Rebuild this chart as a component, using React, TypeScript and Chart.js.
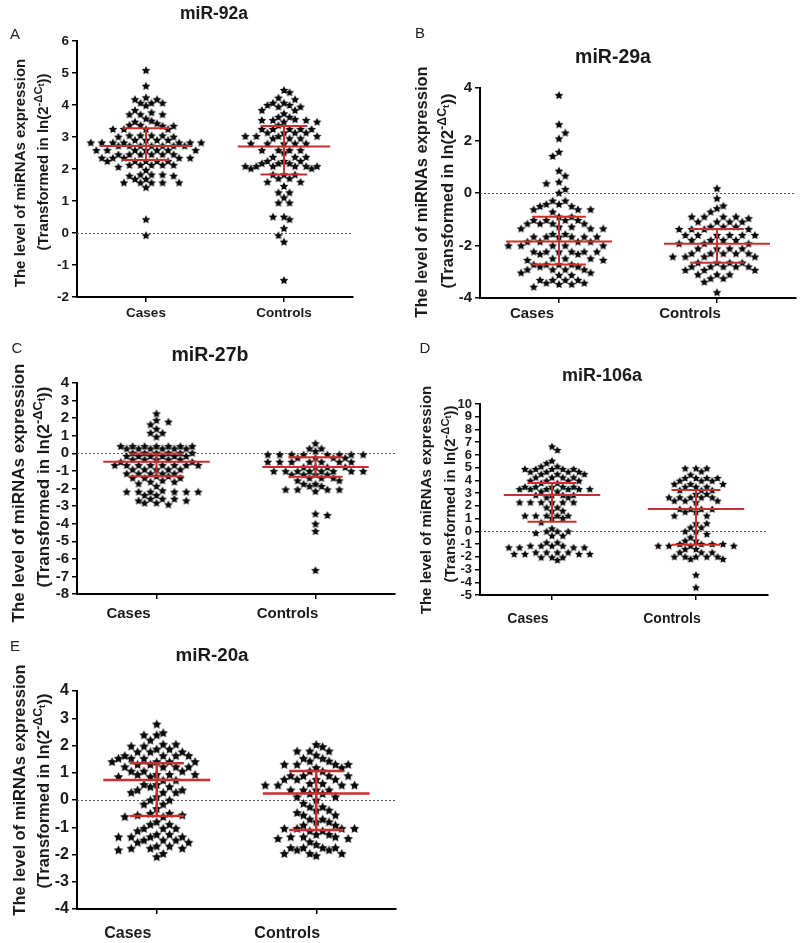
import React, { useEffect, useRef } from 'react';
import { Chart, registerables } from 'chart.js';

Chart.register(...registerables);

const FONT = "'Liberation Sans', Arial, Helvetica, sans-serif";
const RED = '#c8302e';
const GROUPS = ['Cases', 'Controls'];

// ---------- Panel A: miR-92a ----------
const A_CASES = [5.09, 4.6, 4.24, 4.18, 4.18, 4.07, 4.07, 4.07, 3.99, 3.84, 3.77, 3.71, 3.71, 3.71, 3.58, 3.51, 3.48, 3.43, 3.38, 3.38, 3.35, 3.35, 3.25, 3.25, 3.25, 3.25, 3.05, 3.05, 3.05, 3.05, 3.01, 3.01, 2.91, 2.91, 2.91, 2.91, 2.83, 2.83, 2.83, 2.83, 2.83, 2.83, 2.83, 2.73, 2.73, 2.73, 2.73, 2.73, 2.73, 2.73, 2.59, 2.59, 2.59, 2.59, 2.59, 2.59, 2.59, 2.46, 2.46, 2.46, 2.46, 2.46, 2.46, 2.35, 2.35, 2.35, 2.35, 2.35, 2.25, 2.25, 2.25, 2.25, 2.25, 2.13, 2.13, 2.13, 2.13, 2.13, 2.07, 1.97, 1.83, 1.83, 1.83, 1.79, 1.79, 1.69, 1.69, 1.58, 1.58, 1.58, 1.58, 1.58, 1.43, 0.43, -0.07];
const A_CONTROLS = [4.47, 4.4, 4.23, 4.18, 4.07, 4.07, 4.0, 4.0, 3.95, 3.95, 3.84, 3.84, 3.74, 3.63, 3.63, 3.56, 3.53, 3.53, 3.53, 3.48, 3.48, 3.37, 3.25, 3.25, 3.25, 3.25, 3.25, 3.14, 3.14, 3.14, 3.14, 3.03, 3.03, 3.03, 3.03, 2.96, 2.96, 2.96, 2.8, 2.8, 2.8, 2.8, 2.8, 2.59, 2.59, 2.59, 2.59, 2.52, 2.38, 2.38, 2.38, 2.25, 2.25, 2.25, 2.18, 2.18, 2.18, 2.09, 2.09, 2.09, 2.09, 2.09, 2.09, 2.02, 2.02, 1.83, 1.83, 1.83, 1.71, 1.71, 1.6, 1.6, 1.47, 1.27, 1.27, 1.11, 0.95, 0.95, 0.51, 0.51, 0.43, 0.15, -0.07, -0.27, -1.47];
const A_MEDIAN = [2.72, 2.7];
const A_Q1 = [2.28, 1.83];
const A_Q3 = [3.27, 3.34];
const A_YAXIS = [-2, 6, 1];

// ---------- Panel B: miR-29a ----------
const B_CASES = [3.73, 2.62, 2.3, 2.08, 1.57, 1.41, 0.85, 0.66, 0.43, 0.37, 0.15, 0.01, -0.29, -0.29, -0.42, -0.42, -0.5, -0.5, -0.62, -0.62, -0.62, -0.71, -0.9, -0.9, -1.03, -1.03, -1.03, -1.03, -1.16, -1.16, -1.16, -1.16, -1.28, -1.28, -1.35, -1.35, -1.35, -1.56, -1.56, -1.66, -1.66, -1.66, -1.66, -1.66, -1.66, -1.85, -1.85, -1.85, -1.85, -2.0, -2.0, -2.0, -2.0, -2.0, -2.23, -2.23, -2.23, -2.23, -2.23, -2.23, -2.32, -2.32, -2.49, -2.49, -2.49, -2.55, -2.55, -2.72, -2.72, -2.72, -2.72, -2.8, -2.8, -2.91, -2.91, -2.91, -2.91, -3.03, -3.03, -3.12, -3.12, -3.31, -3.31, -3.31, -3.31, -3.42, -3.42, -3.47, -3.47, -3.57];
const B_CONTROLS = [0.18, -0.2, -0.48, -0.58, -0.71, -0.9, -0.9, -0.9, -0.9, -0.96, -1.09, -1.09, -1.09, -1.09, -1.28, -1.28, -1.28, -1.37, -1.37, -1.37, -1.37, -1.6, -1.6, -1.6, -1.6, -1.6, -1.6, -1.79, -1.79, -1.79, -1.79, -1.92, -1.92, -1.92, -2.11, -2.11, -2.11, -2.11, -2.3, -2.3, -2.3, -2.3, -2.3, -2.42, -2.42, -2.42, -2.42, -2.65, -2.65, -2.65, -2.65, -2.8, -2.8, -2.8, -2.8, -2.8, -2.93, -2.93, -2.93, -3.1, -3.1, -3.1, -3.25, -3.25, -3.38, -3.78];
const B_MEDIAN = [-1.85, -1.93];
const B_Q1 = [-2.72, -2.66];
const B_Q3 = [-0.9, -1.37];
const B_YAXIS = [-4, 4, 2];

// ---------- Panel C: miR-27b ----------
const C_CASES = [2.27, 1.89, 1.8, 1.65, 1.4, 1.17, 1.17, 0.95, 0.41, 0.41, 0.41, 0.41, 0.41, 0.41, 0.41, 0.28, 0.28, 0.28, 0.28, 0.28, 0.28, 0.03, 0.03, 0.03, 0.03, 0.03, 0.03, -0.15, -0.15, -0.15, -0.15, -0.15, -0.15, -0.34, -0.34, -0.34, -0.34, -0.34, -0.48, -0.48, -0.67, -0.67, -0.67, -0.67, -0.67, -0.67, -0.67, -0.67, -0.91, -0.91, -0.91, -0.91, -0.91, -1.14, -1.14, -1.14, -1.14, -1.14, -1.29, -1.29, -1.39, -1.39, -1.39, -1.54, -1.61, -1.61, -1.71, -1.86, -2.11, -2.18, -2.18, -2.18, -2.18, -2.18, -2.18, -2.37, -2.37, -2.58, -2.58, -2.58, -2.68, -2.68, -2.81, -2.81, -2.9];
const C_CONTROLS = [0.57, 0.28, 0.28, 0.13, -0.06, -0.06, -0.06, -0.06, -0.06, -0.06, -0.06, -0.06, -0.25, -0.25, -0.25, -0.25, -0.48, -0.48, -0.48, -0.48, -0.48, -0.48, -0.48, -0.78, -0.78, -0.78, -0.78, -1.01, -1.01, -1.01, -1.01, -1.01, -1.01, -1.01, -1.01, -1.2, -1.2, -1.2, -1.2, -1.39, -1.39, -1.39, -1.54, -1.54, -1.73, -1.73, -1.86, -1.86, -2.05, -2.05, -2.05, -2.05, -2.15, -3.43, -3.51, -4.0, -4.42, -6.64];
const C_MEDIAN = [-0.48, -0.78];
const C_Q1 = [-1.3, -1.33];
const C_Q3 = [-0.02, -0.22];
const C_YAXIS = [-8, 4, 1];

// ---------- Panel D: miR-106a ----------
const D_CASES = [6.67, 6.39, 5.55, 5.36, 5.1, 5.1, 4.9, 4.9, 4.9, 4.9, 4.9, 4.68, 4.68, 4.68, 4.68, 4.5, 4.5, 4.5, 4.24, 4.24, 4.24, 4.24, 3.98, 3.98, 3.98, 3.98, 3.8, 3.8, 3.5, 3.5, 3.5, 3.5, 3.5, 3.32, 3.32, 3.32, 3.32, 3.32, 3.32, 3.14, 3.14, 2.85, 2.85, 2.85, 2.85, 2.67, 2.67, 2.28, 2.28, 2.28, 2.28, 2.28, 2.28, 1.88, 1.88, 1.62, 1.62, 1.23, 1.23, 1.23, 1.23, 1.23, 1.05, 1.05, 0.71, 0.23, 0.0, 0.0, 0.0, -0.13, -0.34, -0.34, -0.87, -0.87, -1.13, -1.13, -1.13, -1.13, -1.26, -1.26, -1.26, -1.26, -1.65, -1.65, -1.65, -1.65, -1.78, -1.78, -1.78, -1.78, -2.04, -2.04, -2.04, -2.25];
const D_CONTROLS = [4.95, 4.95, 4.95, 4.71, 4.45, 4.19, 4.19, 4.19, 4.19, 3.98, 3.98, 3.98, 3.72, 3.72, 3.72, 3.5, 3.5, 3.5, 3.24, 3.24, 3.24, 2.93, 2.93, 2.67, 2.67, 2.67, 2.67, 2.67, 2.41, 2.41, 2.41, 2.28, 1.75, 1.75, 1.75, 1.75, 1.54, 1.54, 1.23, 1.23, 0.63, 0.63, 0.31, 0.31, 0.0, 0.0, -0.21, -0.47, -0.73, -0.73, -0.99, -0.99, -0.99, -0.99, -1.13, -1.13, -1.13, -1.13, -1.39, -1.39, -1.65, -1.65, -1.65, -1.99, -1.99, -1.99, -1.99, -1.99, -2.17, -2.17, -3.41, -4.4];
const D_MEDIAN = [2.85, 1.75];
const D_Q1 = [0.76, -1.05];
const D_Q3 = [3.79, 3.24];
const D_YAXIS = [-5, 10, 1];

// ---------- Panel E: miR-20a ----------
const E_CASES = [2.79, 2.47, 2.39, 2.39, 2.2, 2.05, 2.05, 1.98, 1.98, 1.87, 1.87, 1.77, 1.77, 1.77, 1.63, 1.63, 1.63, 1.63, 1.53, 1.53, 1.53, 1.41, 1.41, 1.41, 1.41, 1.31, 1.31, 1.22, 1.22, 1.22, 1.22, 1.06, 1.06, 1.06, 0.94, 0.94, 0.94, 0.94, 0.86, 0.86, 0.73, 0.73, 0.57, 0.57, 0.49, 0.49, 0.37, 0.37, 0.28, 0.28, 0.28, 0.12, 0.0, 0.0, -0.15, -0.15, -0.31, -0.49, -0.49, -0.55, -0.55, -0.61, -0.61, -0.8, -0.89, -0.89, -1.04, -1.04, -1.04, -1.13, -1.26, -1.26, -1.35, -1.35, -1.35, -1.35, -1.47, -1.47, -1.47, -1.55, -1.55, -1.69, -1.69, -1.77, -1.77, -1.77, -1.83, -1.96, -2.08];
const E_CONTROLS = [2.04, 1.96, 1.8, 1.8, 1.8, 1.65, 1.53, 1.53, 1.43, 1.43, 1.31, 1.31, 1.31, 1.31, 1.19, 1.19, 1.06, 1.06, 0.89, 0.89, 0.89, 0.89, 0.76, 0.76, 0.76, 0.76, 0.61, 0.61, 0.55, 0.55, 0.55, 0.55, 0.37, 0.37, 0.37, 0.37, 0.24, 0.24, 0.12, 0.12, 0.0, -0.12, -0.25, -0.25, -0.37, -0.37, -0.46, -0.55, -0.55, -0.7, -0.7, -0.8, -0.8, -0.92, -0.92, -1.04, -1.04, -1.04, -1.04, -1.13, -1.13, -1.26, -1.26, -1.35, -1.35, -1.35, -1.41, -1.41, -1.53, -1.63, -1.75, -1.75, -1.75, -1.75, -1.83, -1.83, -1.96, -1.96, -1.96, -2.04];
const E_MEDIAN = [0.73, 0.24];
const E_Q1 = [-0.59, -1.1];
const E_Q3 = [1.35, 1.06];
const E_YAXIS = [-4, 4, 1];

type Pt = [number, number];
type PanelCfg = {
  letter: string;
  title: string;
  cases: number[];
  controls: number[];
  median: number[];
  q1: number[];
  q3: number[];
  yAxis: number[];
  box: [number, number, number, number];
  area: [number, number, number, number];
  yFont: number;
  xFont: number;
  xPad: number;
  labelOffset: number;
  star: number;
  step: number;
  vCol: number;
  redW: number;
  titlePos: Pt;
  titleSize: number;
  letterPos: Pt;
  yt1: Pt;
  yt2: Pt;
  ytSize: number;
};

const PANELS: PanelCfg[] = [
  {
    letter: 'A', title: 'miR-92a', cases: A_CASES, controls: A_CONTROLS,
    median: A_MEDIAN, q1: A_Q1, q3: A_Q3, yAxis: A_YAXIS,
    box: [0, 0, 400, 325], area: [77, 41, 353, 297],
    yFont: 13.5, xFont: 13.5, xPad: 3, labelOffset: 0, star: 9, step: 0.08, vCol: 8, redW: 2,
    titlePos: [214, 14], titleSize: 17.5, letterPos: [15, 33],
    yt1: [19, 173], yt2: [43, 162], ytSize: 15,
  },
  {
    letter: 'B', title: 'miR-29a', cases: B_CASES, controls: B_CONTROLS,
    median: B_MEDIAN, q1: B_Q1, q3: B_Q3, yAxis: B_YAXIS,
    box: [400, 0, 400, 325], area: [480, 88, 797, 298],
    yFont: 15, xFont: 15, xPad: 2, labelOffset: -27, star: 9, step: 0.08, vCol: 9, redW: 2,
    titlePos: [613, 57], titleSize: 19.5, letterPos: [420, 32],
    yt1: [421, 192], yt2: [447, 191], ytSize: 16.5,
  },
  {
    letter: 'C', title: 'miR-27b', cases: C_CASES, controls: C_CONTROLS,
    median: C_MEDIAN, q1: C_Q1, q3: C_Q3, yAxis: C_YAXIS,
    box: [0, 325, 400, 315], area: [77, 383, 395, 594],
    yFont: 15, xFont: 15, xPad: 6, labelOffset: -28, star: 9, step: 0.075, vCol: 6, redW: 2,
    titlePos: [210, 355], titleSize: 19.5, letterPos: [17, 347],
    yt1: [18, 493], yt2: [43, 487], ytSize: 17,
  },
  {
    letter: 'D', title: 'miR-106a', cases: D_CASES, controls: D_CONTROLS,
    median: D_MEDIAN, q1: D_Q1, q3: D_Q3, yAxis: D_YAXIS,
    box: [400, 325, 400, 315], area: [480, 404, 768, 595],
    yFont: 13, xFont: 14, xPad: 11, labelOffset: -24, star: 8.5, step: 0.075, vCol: 7, redW: 2,
    titlePos: [602, 375], titleSize: 18, letterPos: [425, 347],
    yt1: [425, 500], yt2: [450, 494], ytSize: 15,
  },
  {
    letter: 'E', title: 'miR-20a', cases: E_CASES, controls: E_CONTROLS,
    median: E_MEDIAN, q1: E_Q1, q3: E_Q3, yAxis: E_YAXIS,
    box: [0, 640, 400, 303], area: [77, 691, 400, 909],
    yFont: 16, xFont: 16, xPad: 10, labelOffset: -29, star: 10, step: 0.08, vCol: 10, redW: 2.5,
    titlePos: [212, 655], titleSize: 18.8, letterPos: [15, 645],
    yt1: [19, 790], yt2: [43, 791], ytSize: 16.5,
  },
];

function makeStar(size: number): HTMLCanvasElement {
  const n = Math.ceil(size) + 1;
  const c = document.createElement('canvas');
  c.width = n;
  c.height = n;
  const ctx = c.getContext('2d')!;
  const R = size / 2;
  const r = R * 0.5;
  const cx = n / 2;
  const cy = n / 2 + R * 0.1;
  ctx.beginPath();
  for (let i = 0; i < 10; i++) {
    const rad = i % 2 === 0 ? R : r;
    const a = -Math.PI / 2 + (i * Math.PI) / 5;
    const px = cx + rad * Math.cos(a);
    const py = cy + rad * Math.sin(a);
    if (i === 0) ctx.moveTo(px, py);
    else ctx.lineTo(px, py);
  }
  ctx.closePath();
  ctx.fillStyle = '#0a0a0a';
  ctx.fill();
  return c;
}

// Dot-plot spreading on a half-step lattice (like GraphPad Prism's scatter dot plot):
// a point may share a column with another only when far enough apart vertically,
// and may sit half a step beside another when the rows are slightly offset.
function latticeSwarm(ys: number[], s: number, vCol: number, vRow: number): number[] {
  const order = ys.map((_, i) => i).sort((a, b) => ys[a] - ys[b]);
  const xs = new Array(ys.length).fill(0);
  const placed: number[] = [];
  let side = 1;
  for (const i of order) {
    const y = ys[i];
    const near = placed.filter((j) => Math.abs(ys[j] - y) < vCol);
    let best = 0;
    for (let k = 0; k < 80; k++) {
      const m = Math.ceil(k / 2);
      const c = k === 0 ? 0 : (k % 2 === 1 ? side : -side) * m * (s / 2);
      const clash = near.some((j) => {
        const dx = Math.abs(xs[j] - c);
        const dy = Math.abs(ys[j] - y);
        return (dx < s / 2 - 0.01 && dy < vCol) || (dx < s - 0.01 && dy < vRow);
      });
      if (!clash) {
        best = c;
        break;
      }
    }
    if (best !== 0) side = -side;
    xs[i] = best;
    placed.push(i);
  }
  return xs;
}

function Panel({ cfg }: { cfg: PanelCfg }) {
  const ref = useRef<HTMLCanvasElement | null>(null);
  useEffect(() => {
    const canvas = ref.current;
    if (!canvas) return;
    const [bx, by, bw, bh] = cfg.box;
    const [L, T, R, B] = cfg.area;
    const YW = 40;
    const XH = 44;
    const star = makeStar(cfg.star);

    const dotPlotPlugin = {
      id: 'dotplot',
      afterDatasetsUpdate(chart: any) {
        const xs = chart.scales.x;
        const unit = xs.getPixelForValue(2) - xs.getPixelForValue(1);
        chart.data.datasets.forEach((ds: any, i: number) => {
          const meta = chart.getDatasetMeta(i);
          const cx = xs.getPixelForValue(ds.group);
          const ys = meta.data.map((el: any) => el.y);
          const offs = latticeSwarm(ys, cfg.step * unit, cfg.vCol, 2);
          meta.data.forEach((el: any, k: number) => {
            el.x = cx + offs[k];
          });
        });
      },
    };

    const zeroPlugin = {
      id: 'zeroLine',
      beforeDatasetsDraw(chart: any) {
        const { ctx, chartArea, scales } = chart;
        const y0 = Math.round(scales.y.getPixelForValue(0)) + 0.5;
        ctx.save();
        ctx.strokeStyle = '#555';
        ctx.lineWidth = 1;
        ctx.setLineDash([2, 2]);
        ctx.beginPath();
        ctx.moveTo(chartArea.left, y0);
        ctx.lineTo(chartArea.right, y0);
        ctx.stroke();
        ctx.restore();
      },
    };

    const statsPlugin = {
      id: 'stats',
      afterDatasetsDraw(chart: any) {
        const { ctx, scales } = chart;
        const x = scales.x;
        const y = scales.y;
        const unit = x.getPixelForValue(2) - x.getPixelForValue(1);
        ctx.save();
        ctx.strokeStyle = RED;
        ctx.lineWidth = cfg.redW;
        ctx.lineCap = 'butt';
        const seg = (x1: number, y1: number, x2: number, y2: number) => {
          ctx.beginPath();
          ctx.moveTo(x1, y1);
          ctx.lineTo(x2, y2);
          ctx.stroke();
        };
        for (let g = 0; g < 2; g++) {
          const cx = x.getPixelForValue(g + 1);
          const ym = y.getPixelForValue(cfg.median[g]);
          const y1 = y.getPixelForValue(cfg.q1[g]);
          const y3 = y.getPixelForValue(cfg.q3[g]);
          seg(cx, y1, cx, y3);
          seg(cx - 0.335 * unit, ym, cx + 0.335 * unit, ym);
          seg(cx - 0.17 * unit, y1, cx + 0.17 * unit, y1);
          seg(cx - 0.17 * unit, y3, cx + 0.17 * unit, y3);
        }
        ctx.restore();
      },
    };

    const ptStyle = {
      pointStyle: star,
      pointRadius: 4,
      pointHoverRadius: 4,
      pointBorderWidth: 0,
    };

    const chart = new Chart(canvas, {
      type: 'scatter',
      data: {
        datasets: [
          { label: GROUPS[0], group: 1, data: cfg.cases.map((v) => ({ x: 1, y: v })), ...ptStyle } as any,
          { label: GROUPS[1], group: 2, data: cfg.controls.map((v) => ({ x: 2, y: v })), ...ptStyle } as any,
        ],
      },
      options: {
        responsive: false,
        animation: false,
        events: [],
        layout: {
          padding: {
            left: L - bx - YW,
            top: T - by,
            right: bx + bw - R,
            bottom: by + bh - B - XH,
          },
        },
        plugins: {
          legend: { display: false },
          tooltip: { enabled: false },
          title: { display: false },
        },
        scales: {
          x: {
            type: 'linear',
            min: 0.5,
            max: 2.5,
            afterBuildTicks: (s: any) => {
              s.ticks = [{ value: 1 }, { value: 2 }];
            },
            afterFit: (s: any) => {
              s.height = XH;
            },
            grid: { drawOnChartArea: false, drawTicks: true, tickLength: 5, color: '#000', lineWidth: 1.5 },
            border: { display: true, color: '#000', width: 2 },
            ticks: {
              autoSkip: false,
              maxRotation: 0,
              padding: cfg.xPad,
              labelOffset: cfg.labelOffset,
              color: '#1a1a1a',
              font: { family: FONT, size: cfg.xFont, weight: 'bold' },
              callback: (_v: any, i: number) => GROUPS[i],
            },
          },
          y: {
            type: 'linear',
            min: cfg.yAxis[0],
            max: cfg.yAxis[1],
            afterFit: (s: any) => {
              s.width = YW;
            },
            grid: { drawOnChartArea: false, drawTicks: true, tickLength: 5, color: '#000', lineWidth: 1.5 },
            border: { display: true, color: '#000', width: 2 },
            ticks: {
              stepSize: cfg.yAxis[2],
              autoSkip: false,
              padding: 3,
              color: '#1a1a1a',
              font: { family: FONT, size: cfg.yFont, weight: 'bold' },
            },
          },
        },
      } as any,
      plugins: [dotPlotPlugin, zeroPlugin, statsPlugin],
    });
    return () => chart.destroy();
  }, [cfg]);

  const [bx, by, bw, bh] = cfg.box;
  const center: React.CSSProperties = {
    position: 'absolute',
    whiteSpace: 'nowrap',
    lineHeight: 1,
    transform: 'translate(-50%, -50%)',
  };
  const rot: React.CSSProperties = {
    position: 'absolute',
    whiteSpace: 'nowrap',
    lineHeight: 1,
    fontWeight: 'bold',
    fontSize: cfg.ytSize,
    color: '#1a1a1a',
    transform: 'translate(-50%, -50%) rotate(-90deg)',
  };
  return (
    <>
      <canvas
        ref={ref}
        width={bw}
        height={bh}
        style={{ position: 'absolute', left: bx, top: by, width: bw, height: bh }}
      />
      <div style={{ ...center, left: cfg.letterPos[0], top: cfg.letterPos[1], fontSize: 15, color: '#222' }}>
        {cfg.letter}
      </div>
      <div
        style={{
          ...center,
          left: cfg.titlePos[0],
          top: cfg.titlePos[1],
          fontSize: cfg.titleSize,
          fontWeight: 'bold',
          color: '#1a1a1a',
        }}
      >
        {cfg.title}
      </div>
      <div style={{ ...rot, left: cfg.yt1[0], top: cfg.yt1[1] }}>The level of miRNAs expression</div>
      <div style={{ ...rot, left: cfg.yt2[0], top: cfg.yt2[1] }}>
        (Transformed in ln(2
        <span style={{ fontSize: '0.75em', position: 'relative', top: '-0.55em' }}>
          -ΔC<span style={{ fontSize: '0.8em', position: 'relative', top: '0.25em' }}>t</span>
        </span>
        ))
      </div>
    </>
  );
}

export default function App() {
  return (
    <div
      style={{
        position: 'absolute',
        left: 0,
        top: 0,
        width: 800,
        height: 943,
        background: '#fff',
        fontFamily: FONT,
        overflow: 'hidden',
      }}
    >
      {PANELS.map((p) => (
        <Panel key={p.letter} cfg={p} />
      ))}
    </div>
  );
}
